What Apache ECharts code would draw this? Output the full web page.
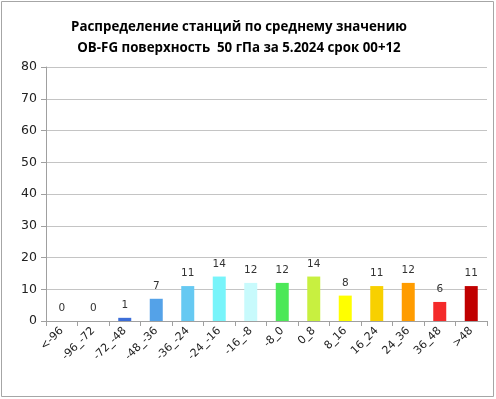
<!DOCTYPE html>
<html><head><meta charset="utf-8">
<script src="https://cdn.jsdelivr.net/npm/echarts@6/dist/echarts.min.js"></script>
<style>html,body{margin:0;padding:0;background:#fff}#c{width:496px;height:399px}</style>
</head><body><div id="c"></div>
<script>
const titleText = "Распределение станций по среднему значению\nOB-FG поверхность  50 гПа за 5.2024 срок 00+12";
const categories = ["<-96","-96_-72","-72_-48","-48_-36","-36_-24","-24_-16","-16_-8","-8_0","0_8","8_16","16_24","24_36","36_48",">48"];
const values = [0,0,1,7,11,14,12,12,14,8,11,12,6,11];
const barColors = ["#3d6ed8","#3d6ed8","#3d6ed8","#54a2e8","#66c9f2","#78f4fa","#c8fafc","#4ce858","#c8f040","#ffff00","#f8d000","#ff9c00","#f42a2a","#c00000"];
const yTicks = {min:0,max:80,interval:10};

const chart = echarts.init(document.getElementById('c'), null, {renderer:'canvas'});
chart.setOption({
  animation:false,
  backgroundColor:'#fff',
  graphic:[{type:'rect',shape:{x:1.5,y:1.5,width:492,height:395},style:{fill:'none',stroke:'#a6a6a6',lineWidth:1}}],
  title:{text:titleText,left:234,top:12,textAlign:'center',
    textStyle:{fontFamily:'Open Sans',fontWeight:'bold',fontSize:13.3,color:'#000',lineHeight:21}},
  grid:{left:46,right:9,top:67,bottom:78,containLabel:false},
  xAxis:{type:'category',data:categories,boundaryGap:true,
    axisLine:{lineStyle:{color:'#a0a0a0',width:1}},
    axisTick:{show:true,alignWithLabel:false,length:5,lineStyle:{color:'#a0a0a0'}},
    axisLabel:{rotate:45,interval:0,fontFamily:'DejaVu Sans',fontSize:11,color:'#222',margin:8}},
  yAxis:{type:'value',min:yTicks.min,max:yTicks.max,interval:yTicks.interval,
    axisLine:{show:true,lineStyle:{color:'#a0a0a0'}},
    axisTick:{show:true,length:5,lineStyle:{color:'#a0a0a0'}},
    splitLine:{lineStyle:{color:'#c4c4c4',width:1}},
    axisLabel:{fontFamily:'DejaVu Sans',fontSize:12.5,color:'#222',margin:9}},
  series:[{type:'bar',data:values.map((v,i)=>({value:v,itemStyle:{color:barColors[i]}})),
    barWidth:13,
    label:{show:true,position:'top',distance:7,fontFamily:'DejaVu Sans',fontSize:10.5,color:'#333'}}]
});
</script></body></html>
